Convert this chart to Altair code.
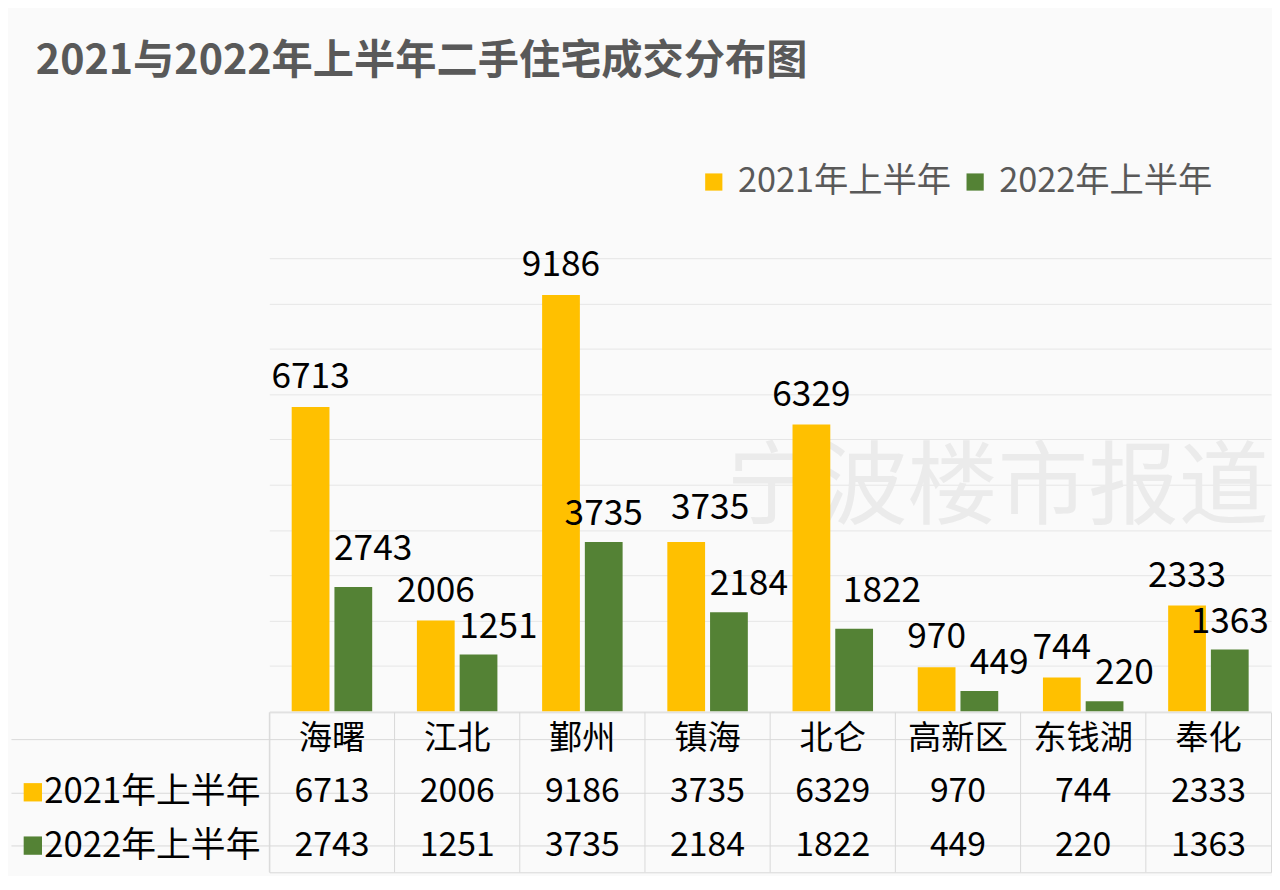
import altair as alt
import pandas as pd

# ---------------- data ----------------
categories = ["海曙", "江北", "鄞州", "镇海", "北仑", "高新区", "东钱湖", "奉化"]
series = ["2021年上半年", "2022年上半年"]
values_2021 = [6713, 2006, 9186, 3735, 6329, 970, 744, 2333]
values_2022 = [2743, 1251, 3735, 2184, 1822, 449, 220, 1363]
colors = ["#FFC000", "#548235"]
title_text = "2021与2022年上半年二手住宅成交分布图"
watermark_text = "宁波楼市报道"
header_row = "区域"
y_ticks = list(range(0, 10001, 1000))

records = []
for c, a, b in zip(categories, values_2021, values_2022):
    records.append({"cat": c, "series": series[0], "value": a, "row": series[0]})
    records.append({"cat": c, "series": series[1], "value": b, "row": series[1]})
df = pd.DataFrame(records)
cat_df = pd.DataFrame({"cat": categories, "row": [header_row] * len(categories)})
series_df = pd.DataFrame({"series": series, "row": series})
wm_df = pd.DataFrame({"t": [watermark_text]})

FONT = "Noto Sans CJK SC"
W = 1008
H_TOP = 456
H_TAB = 161
GRID = "#e6e6e6"
LINE = "#d9d9d9"

# ---------------- top: bars ----------------
x_scale = alt.Scale(domain=categories, paddingInner=0, paddingOuter=0)
x_top = alt.X("cat:N", sort=categories, scale=x_scale, axis=None)
y_top = alt.Y(
    "value:Q",
    scale=alt.Scale(domain=[0, 10000]),
    axis=alt.Axis(values=y_ticks, labels=False, ticks=False, domain=False,
                  grid=True, gridColor=GRID, gridWidth=1, title=None),
)
xoff = alt.XOffset("series:N", sort=series,
                   scale=alt.Scale(domain=series, paddingInner=5 / 43, paddingOuter=0.523))
color_top = alt.Color(
    "series:N", sort=series,
    scale=alt.Scale(domain=series, range=colors),
    legend=alt.Legend(title=None, orient="none", legendX=430, legendY=-94,
                      direction="horizontal", symbolType="square", symbolSize=300,
                      symbolStrokeWidth=0, symbolOpacity=1, labelFontSize=34.5,
                      labelColor="#595959", labelFont=FONT, columnPadding=6,
                      labelOffset=7, labelLimit=0, padding=0),
)

wm = alt.Chart(wm_df).mark_text(
    fontSize=91, font=FONT, color="#ebebeb", align="center", baseline="middle"
).encode(x=alt.value(733), y=alt.value(233), text="t:N")

bars = alt.Chart(df).mark_bar().encode(x=x_top, y=y_top, xOffset=xoff, color=color_top)

# label placement as in the reference (some labels were nudged aside)
lab_a = alt.Chart(df).transform_filter(alt.datum.series == series[0]).mark_text(
    fontSize=35.5, font=FONT, color="#000000", baseline="middle",
    dx=alt.expr("datum.cat === '镇海' ? 24 : 0"),
    dy=alt.expr("datum.cat === '镇海' ? -34 : -30"),
).encode(x=x_top, y="value:Q", xOffset=xoff, text="value:Q")

lab_b = alt.Chart(df).transform_filter(alt.datum.series == series[1]).mark_text(
    fontSize=35.5, font=FONT, color="#000000", baseline="middle",
    dx=alt.expr("indexof(['鄞州','奉化'], datum.cat) >= 0 ? 0 : (datum.cat === '北仑' ? 28 : 20)"),
    dy=alt.expr("indexof(['海曙','北仑'], datum.cat) >= 0 ? -38 : -28"),
).encode(x=x_top, y="value:Q", xOffset=xoff, text="value:Q")

top = alt.layer(wm, bars, lab_a, lab_b).properties(width=W, height=H_TOP)

# ---------------- bottom: data table ----------------
row_domain = [header_row] + series
x_tab = alt.X("cat:N", sort=categories, scale=x_scale, axis=None)
y_tab = alt.Y(
    "row:N", sort=row_domain,
    scale=alt.Scale(domain=row_domain, paddingInner=0, paddingOuter=0),
    axis=alt.Axis(labels=False, ticks=True, tickSize=260, tickColor=LINE, tickWidth=1,
                  domain=False, grid=True, gridColor=LINE, gridWidth=1,
                  bandPosition=1, title=None),
)

vlines = alt.Chart(cat_df).mark_rule(color=LINE, strokeWidth=1).encode(
    x=alt.X("cat:N", sort=categories, scale=x_scale, axis=None, bandPosition=0)
)
header = alt.Chart(cat_df).mark_text(fontSize=33.5, font=FONT, color="#000000").encode(
    x=x_tab, y=y_tab, text="cat:N"
)
cells = alt.Chart(df).mark_text(fontSize=34, font=FONT, color="#000000").encode(
    x=x_tab, y="row:N", text="value:Q"
)
row_labels = alt.Chart(series_df).mark_text(
    fontSize=35, font=FONT, color="#000000", align="right", baseline="middle"
).encode(x=alt.value(-9), y="row:N", text="series:N")
squares = alt.Chart(series_df).mark_point(
    shape="square", filled=True, size=340, opacity=1, strokeWidth=0
).encode(
    x=alt.value(-238), y="row:N",
    color=alt.Color("series:N", sort=series, scale=alt.Scale(domain=series, range=colors), legend=None),
)

table = alt.layer(vlines, header, cells, row_labels, squares).properties(
    width=W, height=H_TAB,
    view=alt.ViewBackground(stroke=LINE, strokeWidth=1),
)

chart = alt.vconcat(top, table, spacing=0).resolve_scale(
    color="independent"
).resolve_legend(color="independent").properties(
    title=alt.TitleParams(title_text, anchor="start", fontSize=41.5, font=FONT,
                          fontWeight="bold", color="#595959", dx=26, offset=83),
    padding={"left": 2, "top": 30, "right": 0, "bottom": 0},
    background="#fafafa",
).configure_view(strokeWidth=0)

chart.save("out.html", embed_options={"renderer": "svg", "actions": False})
